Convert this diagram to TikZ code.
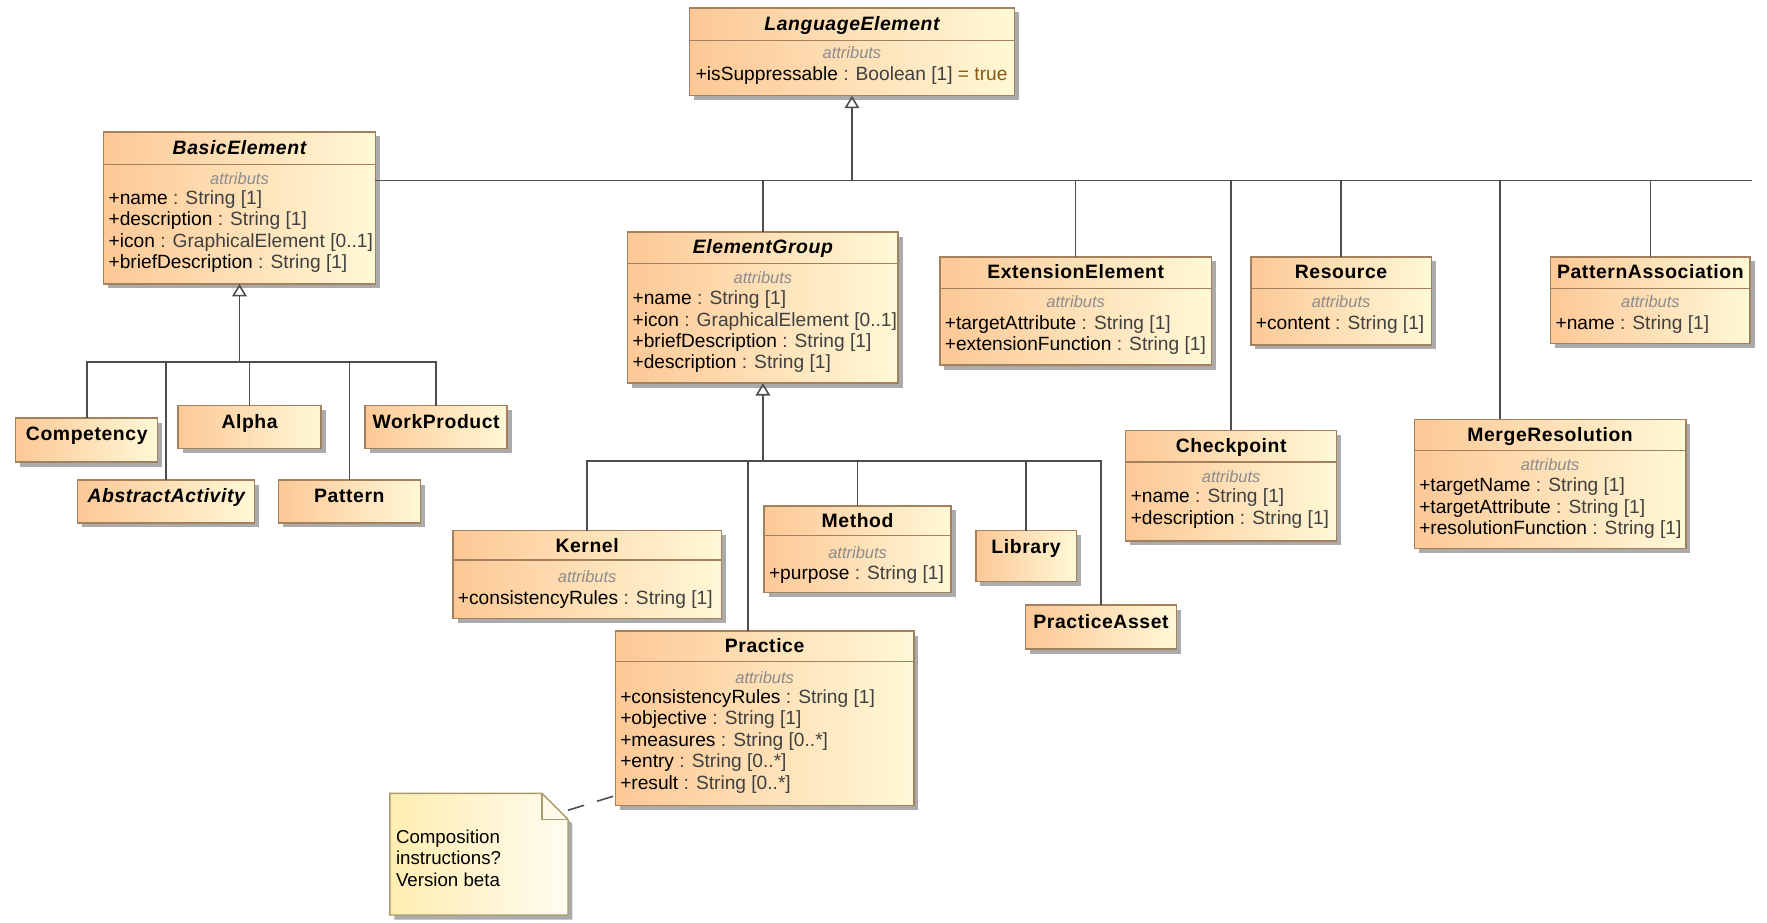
\documentclass[tikz,border=0pt]{standalone}
\usepackage{fontspec}
\setmainfont{Liberation Sans}
\newfontfamily\titlefont[LetterSpace=3]{Liberation Sans}
\usetikzlibrary{arrows.meta,shadows,calc}

\definecolor{clsL}{HTML}{FDC896}
\definecolor{clsR}{HTML}{FFF8D6}
\definecolor{clsBorder}{HTML}{A3805E}
\definecolor{lineCol}{HTML}{4D4D4D}
\definecolor{typeCol}{HTML}{404040}
\definecolor{attrHead}{HTML}{8C8C8C}
\definecolor{valCol}{HTML}{8A5A10}
\definecolor{noteL}{HTML}{FFEDB0}
\definecolor{noteR}{HTML}{FFFCF0}
\definecolor{noteBorder}{HTML}{A89A6A}
\definecolor{shadowCol}{HTML}{ABABAB}

\tikzset{
  cls/.style={draw=clsBorder, line width=0.6pt, left color=clsL, right color=clsR,
    inner sep=0pt, outer sep=0pt, anchor=north west,
    drop shadow={fill=shadowCol, opacity=1, shadow xshift=2pt, shadow yshift=-2pt}},
  sepline/.style={draw=clsBorder, line width=0.6pt},
  ctitle/.style={font=\titlefont\fontsize{8.6}{10}\selectfont\bfseries, anchor=mid, inner sep=0pt},
  atitle/.style={font=\titlefont\fontsize{8.6}{10}\selectfont\bfseries\itshape, anchor=mid, inner sep=0pt},
  ahead/.style={font=\fontsize{7.3}{8}\selectfont\itshape, text=attrHead, anchor=mid, inner sep=0pt},
  aline/.style={font=\fontsize{8.5}{9.5}\selectfont, anchor=mid west, inner sep=0pt},
  ntext/.style={font=\fontsize{8.3}{9.5}\selectfont, anchor=mid west, inner sep=0pt},
  gen/.style={draw=lineCol, line width=0.7pt},
  genarrow/.style={gen, -{Triangle[open, length=5.5pt, width=6.5pt]}},
  notelink/.style={draw=lineCol, line width=0.7pt, dash pattern=on 7.5pt off 6pt},
}

% class box: name, x1, y1, x2, y2
\newcommand\umlbox[5]{\node[cls, minimum width={(#4-#2)*0.5pt}, minimum height={(#5-#3)*0.5pt}] (#1) at (#2,#3) {};}
% compartment separator at a given y
\newcommand\umlsep[2]{\draw[sepline] (#1.west |- 0,#2) -- (#1.east |- 0,#2);}
% title: box, style, y, text
\newcommand\umltitle[4]{\node[#2] (#1-title) at (#1.north |- 0,#3) {#4};}
% "attributs" compartment heading
\newcommand\umlattrs[2]{\node[ahead] (#1-head) at (#1.north |- 0,#2) {attributs};}
% attribute line: node name, x, y, attribute, type
\newcommand\umlattr[5]{\node[aline] (#1) at (#2,#3) {+#4 \textcolor{typeCol}{: #5}};}

\begin{document}
\begin{tikzpicture}[x=0.5pt, y=-0.5pt]
\fill[white] (0,0) rectangle (1568,819);
\useasboundingbox (0,0) rectangle (1568,819);

% ---- LanguageElement
\umlbox{LanguageElement}{612}{7}{900}{85}
\umlsep{LanguageElement}{36}
\umltitle{LanguageElement}{atitle}{21.5}{LanguageElement}
\umlattrs{LanguageElement}{47}
\node[aline] (LanguageElement-a1) at (617,66) {+isSuppressable \textcolor{typeCol}{: Boolean [1]} \textcolor{valCol}{= true}};

% ---- BasicElement
\umlbox{BasicElement}{92}{117}{333}{252}
\umlsep{BasicElement}{146}
\umltitle{BasicElement}{atitle}{131.5}{BasicElement}
\umlattrs{BasicElement}{158}
\umlattr{BasicElement-a1}{96}{176}{name}{String [1]}
\umlattr{BasicElement-a2}{96}{195}{description}{String [1]}
\umlattr{BasicElement-a3}{96}{214}{icon}{GraphicalElement [0..1]}
\umlattr{BasicElement-a4}{96}{233}{briefDescription}{String [1]}

% ---- ElementGroup
\umlbox{ElementGroup}{557}{206}{797}{340}
\umlsep{ElementGroup}{234}
\umltitle{ElementGroup}{atitle}{220}{ElementGroup}
\umlattrs{ElementGroup}{246}
\umlattr{ElementGroup-a1}{561}{265}{name}{String [1]}
\umlattr{ElementGroup-a2}{561}{284}{icon}{GraphicalElement [0..1]}
\umlattr{ElementGroup-a3}{561}{303}{briefDescription}{String [1]}
\umlattr{ElementGroup-a4}{561}{322}{description}{String [1]}

% ---- ExtensionElement
\umlbox{ExtensionElement}{834}{228}{1075}{324}
\umlsep{ExtensionElement}{256}
\umltitle{ExtensionElement}{ctitle}{242}{ExtensionElement}
\umlattrs{ExtensionElement}{268}
\umlattr{ExtensionElement-a1}{838}{287}{targetAttribute}{String [1]}
\umlattr{ExtensionElement-a2}{838}{306}{extensionFunction}{String [1]}

% ---- Resource
\umlbox{Resource}{1110}{228}{1270}{306}
\umlsep{Resource}{256}
\umltitle{Resource}{ctitle}{242}{Resource}
\umlattrs{Resource}{268}
\umlattr{Resource-a1}{1114}{287}{content}{String [1]}

% ---- PatternAssociation
\umlbox{PatternAssociation}{1376}{228}{1553}{305}
\umlsep{PatternAssociation}{256}
\umltitle{PatternAssociation}{ctitle}{242}{PatternAssociation}
\umlattrs{PatternAssociation}{268}
\umlattr{PatternAssociation-a1}{1380}{287}{name}{String [1]}

% ---- Checkpoint
\umlbox{Checkpoint}{999}{382}{1186}{480}
\umlsep{Checkpoint}{410}
\umltitle{Checkpoint}{ctitle}{396.5}{Checkpoint}
\umlattrs{Checkpoint}{423}
\umlattr{Checkpoint-a1}{1003}{441}{name}{String [1]}
\umlattr{Checkpoint-a2}{1003}{460}{description}{String [1]}

% ---- MergeResolution
\umlbox{MergeResolution}{1255}{372}{1496}{487}
\umlsep{MergeResolution}{400}
\umltitle{MergeResolution}{ctitle}{386.5}{MergeResolution}
\umlattrs{MergeResolution}{412}
\umlattr{MergeResolution-a1}{1259}{431}{targetName}{String [1]}
\umlattr{MergeResolution-a2}{1259}{450}{targetAttribute}{String [1]}
\umlattr{MergeResolution-a3}{1259}{469}{resolutionFunction}{String [1]}

% ---- Kernel
\umlbox{Kernel}{402}{471}{640}{549}
\umlsep{Kernel}{497}
\umltitle{Kernel}{ctitle}{485}{Kernel}
\umlattrs{Kernel}{512}
\umlattr{Kernel-a1}{406}{531}{consistencyRules}{String [1]}

% ---- Method
\umlbox{Method}{678}{449}{844}{526}
\umlsep{Method}{475}
\umltitle{Method}{ctitle}{463}{Method}
\umlattrs{Method}{490}
\umlattr{Method-a1}{682}{509}{purpose}{String [1]}

% ---- Practice
\umlbox{Practice}{546}{560}{811}{715}
\umlsep{Practice}{587}
\umltitle{Practice}{ctitle}{574}{Practice}
\umlattrs{Practice}{601}
\umlattr{Practice-a1}{550}{619}{consistencyRules}{String [1]}
\umlattr{Practice-a2}{550}{638}{objective}{String [1]}
\umlattr{Practice-a3}{550}{657}{measures}{String [0..*]}
\umlattr{Practice-a4}{550}{676}{entry}{String [0..*]}
\umlattr{Practice-a5}{550}{695}{result}{String [0..*]}

% ---- classes without compartments
\umlbox{Competency}{14}{371}{140}{410}
\umltitle{Competency}{ctitle}{386}{Competency}
\umlbox{Alpha}{158}{360}{285}{398}
\umltitle{Alpha}{ctitle}{375}{Alpha}
\umlbox{WorkProduct}{324}{360}{450}{398}
\umltitle{WorkProduct}{ctitle}{375}{WorkProduct}
\umlbox{AbstractActivity}{69}{426}{226}{464}
\umltitle{AbstractActivity}{atitle}{441}{AbstractActivity}
\umlbox{Pattern}{247}{426}{373}{464}
\umltitle{Pattern}{ctitle}{441}{Pattern}
\umlbox{Library}{866}{471}{955}{516}
\umltitle{Library}{ctitle}{486}{Library}
\umlbox{PracticeAsset}{910}{537}{1044}{576}
\umltitle{PracticeAsset}{ctitle}{552}{PracticeAsset}

% ---- note
\node[minimum width=79pt, minimum height=54pt, inner sep=0pt, outer sep=0pt, anchor=north west] (Note) at (346,704) {};
\fill[shadowCol] ([shift={(2pt,-2pt)}]Note.north west) -- ([shift={(-9.5pt,-2pt)}]Note.north east)
  -- ([shift={(2pt,-13.5pt)}]Note.north east) -- ([shift={(2pt,-2pt)}]Note.south east)
  -- ([shift={(2pt,-2pt)}]Note.south west) -- cycle;
\shadedraw[draw=noteBorder, line width=0.6pt, left color=noteL, right color=noteR]
  (Note.north west) -- ([xshift=-11.5pt]Note.north east) -- ([yshift=-11.5pt]Note.north east)
  -- (Note.south east) -- (Note.south west) -- cycle;
\draw[draw=noteBorder, line width=0.6pt] ([xshift=-11.5pt]Note.north east) |- ([yshift=-11.5pt]Note.north east);
\node[ntext] (Note-l1) at (351,743) {Composition};
\node[ntext] (Note-l2) at (351,762) {instructions?};
\node[ntext] (Note-l3) at (351,781) {Version beta};
\draw[notelink] (Note.north east) ++(0,15) -- ($(Practice.south west)+(0,-9)$);

% ---- generalization trees
\coordinate (bus1) at (LanguageElement.south |- 0,160);
\coordinate (bus1end) at (1555,160);
\draw[genarrow] (bus1) -- (LanguageElement.south);
\draw[gen] (BasicElement.east |- bus1) -- (bus1end);
\draw[gen] (ElementGroup.north) |- (bus1);
\draw[gen] (ExtensionElement.north) |- (bus1);
\draw[gen] (Checkpoint.north) |- (bus1);
\draw[gen] (Resource.north) |- (bus1);
\draw[gen] (MergeResolution.north west) ++(76,0) |- (bus1);
\draw[gen] (PatternAssociation.north) |- (bus1);

\coordinate (bus2) at (BasicElement.south |- 0,321);
\draw[genarrow] (bus2) -- (BasicElement.south);
\draw[gen] (Competency.north) |- (bus2);
\draw[gen] (AbstractActivity.north) |- (bus2);
\draw[gen] (Alpha.north) |- (bus2);
\draw[gen] (Pattern.north) |- (bus2);
\draw[gen] (WorkProduct.north) |- (bus2);

\coordinate (bus3) at (ElementGroup.south |- 0,409);
\draw[genarrow] (bus3) -- (ElementGroup.south);
\draw[gen] (Kernel.north) |- (bus3);
\draw[gen] (Practice.north west) ++(118,0) |- (bus3);
\draw[gen] (Method.north) |- (bus3);
\draw[gen] (Library.north) |- (bus3);
\draw[gen] (PracticeAsset.north) |- (bus3);
\end{tikzpicture}
\end{document}
